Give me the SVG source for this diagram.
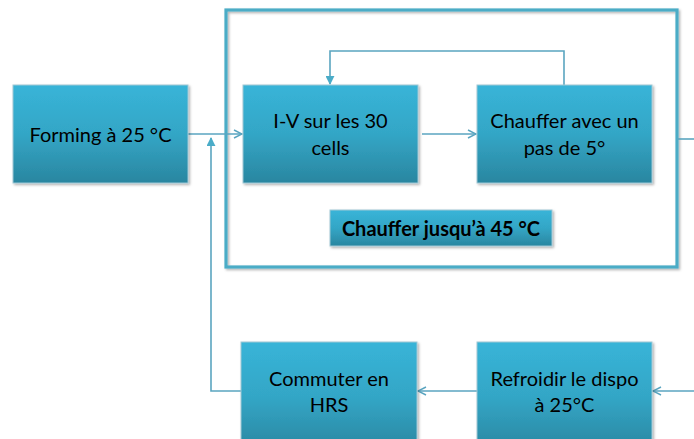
<svg xmlns="http://www.w3.org/2000/svg" width="694" height="439" viewBox="0 0 694 439">
<defs>
<linearGradient id="g" x1="0" y1="0" x2="0" y2="1">
<stop offset="0" stop-color="#38B4D8"/>
<stop offset="0.5" stop-color="#33A6C6"/>
<stop offset="1" stop-color="#2A86A0"/>
</linearGradient>
<filter id="sh" x="-10%" y="-10%" width="130%" height="130%">
<feDropShadow dx="1.5" dy="1.5" stdDeviation="1.2" flood-color="#000" flood-opacity="0.3"/>
</filter>
<marker id="open" viewBox="0 0 10 10" refX="9" refY="5" markerWidth="10" markerHeight="10" markerUnits="userSpaceOnUse" orient="auto">
<path d="M1,1 L9,5 L1,9" fill="none" stroke="#5AA5C0" stroke-width="1.5"/>
</marker>
<marker id="solid" viewBox="0 0 10 10" refX="9" refY="5" markerWidth="9" markerHeight="9" markerUnits="userSpaceOnUse" orient="auto">
<path d="M0,0 L10,5 L0,10 Z" fill="#4AACC8"/>
</marker>
</defs>
<style>
.box{fill:url(#g);stroke:#9FC7D4;stroke-width:1;filter:url(#sh)}
.t{font-family:Lato,"Open Sans",sans-serif;font-size:20px;fill:#000;text-anchor:middle}
.b{font-weight:bold;font-size:20px}
.c{fill:none;stroke:#5AA5C0;stroke-width:1.6}
</style>
<rect width="694" height="439" fill="#fff"/>
<g id="frame">
<rect x="226" y="10" width="451" height="257" fill="none" stroke="#4BACC6" stroke-width="3.2" filter="url(#sh)"/>
</g>
<g id="connectors">
<path class="c" d="M188,134 H242" marker-end="url(#open)"/>
<path class="c" d="M422,134 H476" marker-end="url(#open)"/>
<path class="c" d="M564,85 V51 H330 V84" marker-end="url(#solid)" stroke="#4AACC8"/>
<path class="c" d="M677,139 H694"/>
<path class="c" d="M694,391 H653" marker-end="url(#open)"/>
<path class="c" d="M477,391 H418" marker-end="url(#open)"/>
<path class="c" d="M241,391 H211 V138" marker-end="url(#solid)" stroke="#4AACC8"/>
</g>
<g id="forming">
<rect class="box" x="13" y="85" width="175" height="98"/>
<text class="t" x="100.5" y="142">Forming à 25 °C</text>
</g>
<g id="iv">
<rect class="box" x="243" y="85" width="175" height="98"/>
<text class="t" x="330.5" y="128">I-V sur les 30</text>
<text class="t" x="330.5" y="155">cells</text>
</g>
<g id="chauffer">
<rect class="box" x="477" y="85" width="175" height="98"/>
<text class="t" x="564.5" y="128">Chauffer avec un</text>
<text class="t" x="564.5" y="155">pas de 5°</text>
</g>
<g id="label45">
<rect class="box" x="330" y="210" width="222" height="36"/>
<text class="t b" x="441" y="236">Chauffer jusqu’à 45 °C</text>
</g>
<g id="commuter">
<rect class="box" x="241" y="342" width="176" height="110"/>
<text class="t" x="329" y="386">Commuter en</text>
<text class="t" x="329" y="412">HRS</text>
</g>
<g id="refroidir">
<rect class="box" x="477" y="342" width="175" height="110"/>
<text class="t" x="564.5" y="386">Refroidir le dispo</text>
<text class="t" x="564.5" y="412">à 25°C</text>
</g>
</svg>
